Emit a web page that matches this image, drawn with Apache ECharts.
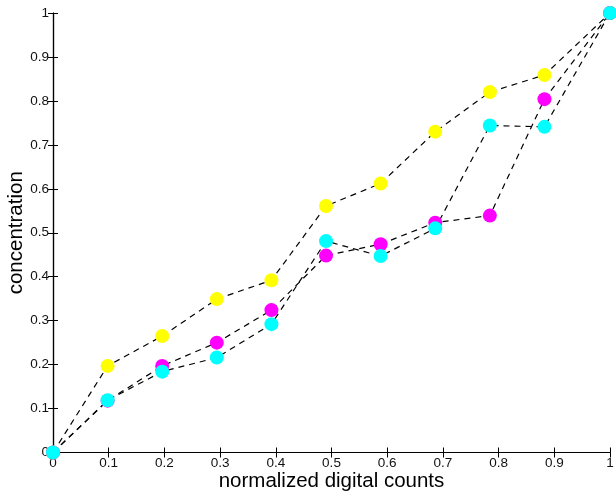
<!DOCTYPE html>
<html>
<head>
<meta charset="utf-8">
<script src="https://cdn.jsdelivr.net/npm/echarts@6/dist/echarts.min.js"></script>
<style>html,body{margin:0;padding:0;background:#fff}#c{width:616px;height:496px}</style>
</head>
<body>
<div id="c"></div>
<script>
// digital count levels, normalized by 255
const counts = [0, 25, 50, 75, 100, 125, 150, 175, 200, 225, 255];
const yellowConc  = [0, 0.197, 0.265, 0.349, 0.392, 0.561, 0.612, 0.730, 0.820, 0.859, 1];
const magentaConc = [0, 0.118, 0.197, 0.250, 0.324, 0.448, 0.474, 0.523, 0.539, 0.804, 1];
const cyanConc    = [0, 0.119, 0.184, 0.216, 0.292, 0.481, 0.447, 0.510, 0.744, 0.741, 1];
const tickLabels = ['0','0.1','0.2','0.3','0.4','0.5','0.6','0.7','0.8','0.9','1'];

const font = 'Liberation Sans, Arial, Helvetica, sans-serif';
const pairs = ys => counts.map((c, i) => [c / 255, ys[i]]);

const lineAxis = {lineStyle: {color: '#000', width: 1.2}};
const tickIn = {show: true, inside: true, length: 5, lineStyle: {color: '#000', width: 1}};
const fmt = v => tickLabels[Math.round(v * 10)];

function series(name, color, ys) {
  return {
    name, type: 'line', data: pairs(ys),
    symbol: 'circle', symbolSize: 14,
    itemStyle: {color: color, borderWidth: 0},
    lineStyle: {color: '#000', width: 1.2, type: [6, 5]},
    emphasis: {disabled: true}, animation: false
  };
}

const chart = echarts.init(document.getElementById('c'));
chart.setOption({
  animation: false,
  grid: {left: 53, right: 6, top: 13, bottom: 43.5, containLabel: false, outerBoundsMode: 'none'},
  xAxis: [{
    type: 'value', min: 0, max: 1, interval: 0.1, position: 'bottom',
    name: 'normalized digital counts', nameLocation: 'middle', nameGap: 18, nameMoveOverlap: false,
    nameTextStyle: {fontFamily: font, fontSize: 20.5, color: '#000'},
    axisLine: lineAxis, axisTick: tickIn, splitLine: {show: false},
    axisLabel: {formatter: fmt, fontFamily: font, fontSize: 13.5, color: '#111', margin: 4}
  }, {
    type: 'value', min: 0, max: 1, interval: 0.1, position: 'top',
    axisLine: lineAxis, axisTick: tickIn, axisLabel: {show: false}, splitLine: {show: false}
  }],
  yAxis: [{
    type: 'value', min: 0, max: 1, interval: 0.1, position: 'left',
    name: 'concentration', nameLocation: 'middle', nameGap: 26, nameMoveOverlap: false,
    nameTextStyle: {fontFamily: font, fontSize: 20.5, color: '#000'},
    axisLine: lineAxis, axisTick: tickIn, splitLine: {show: false},
    axisLabel: {formatter: fmt, fontFamily: font, fontSize: 13.5, color: '#111', margin: 4}
  }, {
    type: 'value', min: 0, max: 1, interval: 0.1, position: 'right',
    axisLine: lineAxis, axisTick: tickIn, axisLabel: {show: false}, splitLine: {show: false}
  }],
  series: [
    series('yellow', '#ffff00', yellowConc),
    series('magenta', '#ff00ff', magentaConc),
    series('cyan', '#00ffff', cyanConc)
  ]
});
</script>
</body>
</html>
